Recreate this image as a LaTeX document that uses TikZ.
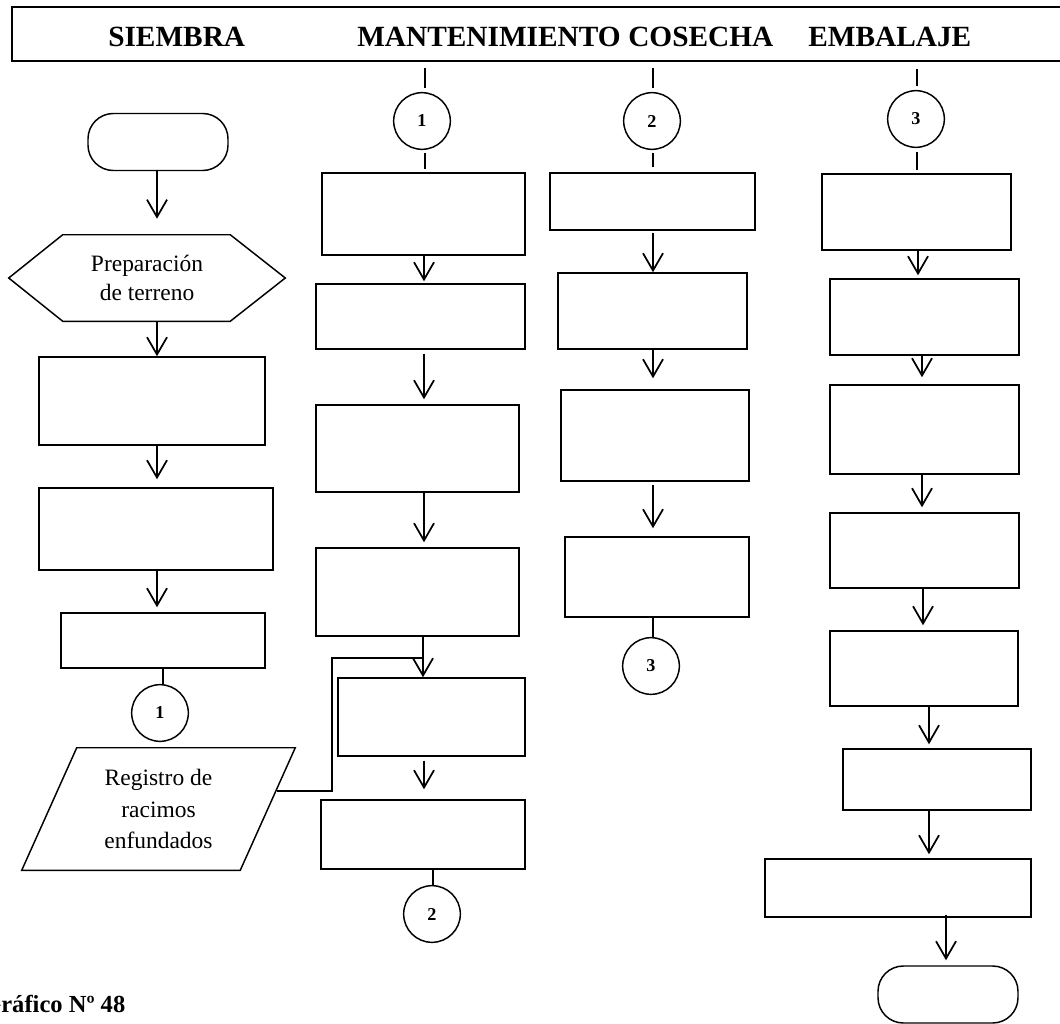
\documentclass[tikz,border=0pt]{standalone}
\usepackage{fontspec}
\setmainfont{Liberation Serif}
\usetikzlibrary{arrows.meta}

\tikzset{
  caja/.style 2 args={draw, line width=1.1pt, minimum width=#1*0.75pt, minimum height=#2*0.75pt, inner sep=0pt},
  terminal/.style={caja={140}{57}, rounded corners=19pt},
  conector/.style={draw, circle, line width=1.1pt, minimum size=42.5pt, inner sep=0pt, font=\fontsize{13.6}{16}\selectfont\bfseries},
  flecha/.style={line width=1.3pt, -{Straight Barb[length=13pt,width=15pt,line width=1.3pt]}},
  tramo/.style={line width=2.2pt},
  titulo/.style={anchor=base west, inner sep=0pt, font=\fontsize{22}{26}\selectfont\bfseries},
  texto/.style={align=center, inner sep=0pt, font=\fontsize{17.6}{21.2}\selectfont}
}

\begin{document}
\begin{tikzpicture}[x=0.75pt,y=0.75pt,yscale=-1,xscale=1]
\useasboundingbox (0,0) rectangle (1060,1024);

%Header band
\draw [line width=1.1pt] (1075,7) -- (12,7) -- (12,61) -- (1075,61);
\node [titulo] (hs) at (108,47) {SIEMBRA};
\node [titulo] (hm) at (357,47) {MANTENIMIENTO};
\node [titulo] (hc) at (628,47) {COSECHA};
\node [titulo] (he) at (808,47) {EMBALAJE};

%SIEMBRA
\node [terminal] (ini) at (158,142) {};
\node [texto, minimum width=276*0.75pt, minimum height=86*0.75pt] (prep) at (147,278) {Preparación\\de terreno};
\draw [line width=1.1pt] (prep.west) -- ([xshift=40.5pt]prep.north west) -- ([xshift=-41.25pt]prep.north east) -- (prep.east) -- ([xshift=-41.25pt]prep.south east) -- ([xshift=40.5pt]prep.south west) -- cycle;
\node [caja={226}{88}] (s1) at (152,401) {};
\node [caja={234}{82}] (s2) at (156,529) {};
\node [caja={204}{55}] (s3) at (163,640.5) {};
\node [conector] (n1) at (160,713) {1};
\node [texto, font=\fontsize{17.6}{23.6}\selectfont, minimum width=273*0.75pt, minimum height=122*0.75pt] (reg) at (158.5,809) {Registro de\\racimos\\enfundados};
\draw [line width=1.1pt] ([xshift=41.25pt]reg.north west) -- (reg.north east) -- ([xshift=-41.25pt]reg.south east) -- (reg.south west) -- cycle;

\draw [flecha, shorten >=12pt] (ini.south -| 157,0) -- (prep.north -| 157,0);
\draw [flecha] (prep.south -| 157,0) -- (s1.north -| 157,0);
\draw [flecha, shorten >=6pt] (s1.south -| 157,0) -- (s2.north -| 157,0);
\draw [flecha, shorten >=3.75pt] (s2.south -| 157,0) -- (s3.north -| 157,0);
\draw [tramo] (s3.south -| 163,0) -- (n1.north -| 163,0);

%Registro joins the MANTENIMIENTO line
\coordinate (reg-sal) at (277,791);
\coordinate (union) at (423,658);
\draw [tramo] (reg-sal) -- ++(55,0) |- (union);

%MANTENIMIENTO
\coordinate (m-top) at (425,68);
\node [conector] (n1b) at (422,121) {1};
\draw [tramo, shorten >=3pt] (m-top) -- (n1b.north -| m-top);
\node [caja={203}{82}] (m1) at (423.5,214) {};
\draw [tramo, shorten <=2pt, shorten >=2.25pt] (n1b.south -| m-top) -- (m1.north -| m-top);
\node [caja={209}{65}] (m2) at (420.5,316.5) {};
\node [caja={203}{87}] (m3) at (417.5,448.5) {};
\node [caja={203}{88}] (m4) at (417.5,592) {};
\node [caja={187}{78}] (m5) at (431.5,717) {};
\node [caja={204}{69}] (m6) at (423,834.5) {};
\node [conector] (n2) at (432,914) {2};

\draw [flecha, shorten >=1.5pt] (m1.south -| 424,0) -- (m2.north -| 424,0);
\draw [flecha, shorten <=3pt, shorten >=3.75pt] (m2.south -| 424,0) -- (m3.north -| 424,0);
\draw [flecha, shorten >=3.75pt] (m3.south -| 424,0) -- (m4.north -| 424,0);
\draw [flecha] (m4.south -| 423,0) -- (m5.north -| 423,0);
\draw [flecha, shorten <=3pt, shorten >=7.5pt] (m5.south -| 424,0) -- (m6.north -| 424,0);
\draw [tramo] (m6.south -| 433,0) -- (n2.north -| 433,0);

%COSECHA
\coordinate (k-top) at (653,68);
\node [conector] (n2b) at (652,121) {2};
\draw [tramo, shorten >=3pt] (k-top) -- (n2b.north -| k-top);
\node [caja={205}{57}] (k1) at (652.5,201.5) {};
\draw [tramo, shorten <=2pt, shorten >=3.75pt] (n2b.south -| k-top) -- (k1.north -| k-top);
\node [caja={189}{76}] (k2) at (652.5,311) {};
\node [caja={188}{91}] (k3) at (655,435.5) {};
\node [caja={184}{80}] (k4) at (657,577) {};
\node [conector] (n3) at (651,666) {3};

\draw [flecha, shorten <=1.5pt] (k1.south -| 653,0) -- (k2.north -| 653,0);
\draw [flecha, shorten >=8.25pt] (k2.south -| 653,0) -- (k3.north -| 653,0);
\draw [flecha, shorten <=2.25pt, shorten >=6pt] (k3.south -| 653,0) -- (k4.north -| 653,0);
\draw [tramo] (k4.south -| 653,0) -- (n3.north -| 653,0);

%EMBALAJE
\coordinate (e-top) at (917,69);
\node [conector] (n3b) at (916,119) {3};
\draw [tramo, shorten >=3pt] (e-top) -- (n3b.north -| e-top);
\node [caja={189}{76}] (e1) at (916.5,212) {};
\draw [tramo, shorten <=3pt, shorten >=2.25pt] (n3b.south -| e-top) -- (e1.north -| e-top);
\node [caja={189}{76}] (e2) at (924.5,317) {};
\node [caja={189}{89}] (e3) at (924.5,429.5) {};
\node [caja={189}{75}] (e4) at (924.5,550.5) {};
\node [caja={188}{75}] (e5) at (924,668.5) {};
\node [caja={188}{61}] (e6) at (937,779.5) {};
\node [caja={266}{58}] (e7) at (898,888) {};
\node [terminal] (fin) at (948,994.5) {};

\draw [flecha, shorten >=2.25pt] (e1.south -| 918,0) -- (e2.north -| 918,0);
\draw [flecha, shorten >=5.25pt] (e2.south -| 922,0) -- (e3.north -| 922,0);
\draw [flecha, shorten >=3.75pt] (e3.south -| 922,0) -- (e4.north -| 922,0);
\draw [flecha, shorten >=3.75pt] (e4.south -| 923,0) -- (e5.north -| 923,0);
\draw [flecha, shorten >=3pt] (e5.south -| 929,0) -- (e6.north -| 929,0);
\draw [flecha, shorten >=3pt] (e6.south -| 929,0) -- (e7.north -| 929,0);
\draw [flecha, shorten <=-2.25pt, shorten >=3.75pt] (e7.south -| 946,0) -- (fin.north -| 946,0);

% Caption
\node [anchor=base west, inner sep=0pt, font=\fontsize{18.4}{22}\selectfont\bfseries] (graf) at (-18,1012) {Gráfico Nº 48};

\end{tikzpicture}
\end{document}
